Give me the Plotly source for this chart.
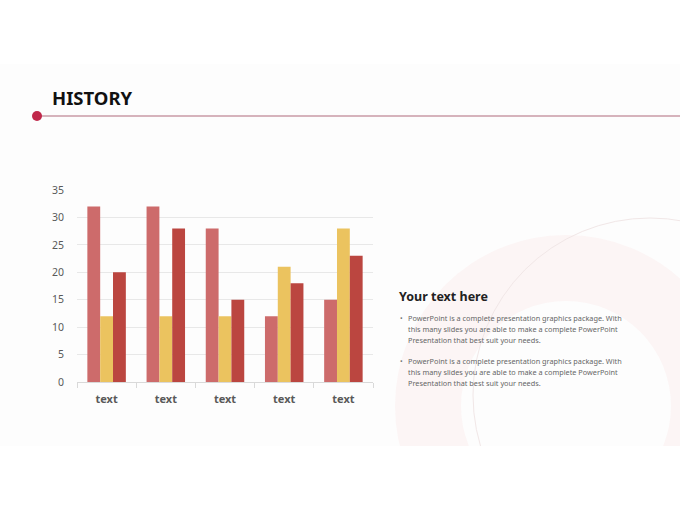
import plotly.graph_objects as go

# --- data
categories = ["text", "text", "text", "text", "text"]
cat_ids = ["c1", "c2", "c3", "c4", "c5"]
series_a = [32, 32, 28, 12, 15]
series_b = [12, 12, 12, 21, 28]
series_c = [20, 28, 15, 18, 23]
y_ticks = [0, 5, 10, 15, 20, 25, 30, 35]

title_text = "HISTORY"
side_title = "Your text here"
bullet_lines = [
    "PowerPoint is a complete presentation graphics package. With",
    "this many slides you are able to make a complete PowerPoint",
    "Presentation that best suit your needs.",
]

W, H = 680, 510
L, R, T, B = 77, 307, 190, 128
PW, PH = W - L - R, H - T - B


def px(x):
    return (x - L) / PW


def py(y):
    return (H - B - y) / PH


fig = go.Figure()

colors = ["#cd6b6b", "#ebc35f", "#bb4640"]
for vals, col in zip([series_a, series_b, series_c], colors):
    fig.add_trace(go.Bar(x=cat_ids, y=vals, marker_color=col, marker_line_width=0,
                         hoverinfo="skip"))

shapes = []
# slide background
shapes.append(dict(type="rect", xref="paper", yref="paper", x0=px(0), x1=px(W),
                   y0=py(446), y1=py(64), fillcolor="#fdfdfd", line_width=0, layer="below"))
# pink ring
cx, cy = 566, 406
shapes.append(dict(type="circle", xref="paper", yref="paper", x0=px(cx - 171), x1=px(cx + 171),
                   y0=py(cy + 171), y1=py(cy - 171), fillcolor="#fcf5f5", line_width=0, layer="below"))
shapes.append(dict(type="circle", xref="paper", yref="paper", x0=px(cx - 105), x1=px(cx + 105),
                   y0=py(cy + 105), y1=py(cy - 105), fillcolor="#fdfdfd", line_width=0, layer="below"))
# thin circle line
lx, ly, lr = 650, 395, 177
shapes.append(dict(type="circle", xref="paper", yref="paper", x0=px(lx - lr), x1=px(lx + lr),
                   y0=py(ly + lr), y1=py(ly - lr), line=dict(color="#f1e7e7", width=1), layer="below"))
# cover below slide
shapes.append(dict(type="rect", xref="paper", yref="paper", x0=px(0), x1=px(W),
                   y0=py(H), y1=py(446), fillcolor="#ffffff", line_width=0, layer="below"))
# header line and dot
shapes.append(dict(type="line", xref="paper", yref="paper", x0=px(37), x1=px(W),
                   y0=py(116), y1=py(116), line=dict(color="#c99aa6", width=1.5)))
shapes.append(dict(type="circle", xref="paper", yref="paper", x0=px(32), x1=px(42),
                   y0=py(121), y1=py(111), fillcolor="#c0284a", line_width=0))

annotations = [
    dict(text="<b>" + title_text + "</b>", xref="paper", yref="paper", x=px(50), y=py(98),
         xanchor="left", yanchor="middle", showarrow=False,
         font=dict(family="Noto Sans", size=18.5, color="#111111")),
    dict(text="<b>" + side_title + "</b>", xref="paper", yref="paper", x=px(397), y=py(296),
         xanchor="left", yanchor="middle", showarrow=False,
         font=dict(family="Noto Sans", size=12.5, color="#222222")),
]
for block_y in [318, 361]:
    annotations.append(dict(text="•", xref="paper", yref="paper", x=px(398), y=py(block_y),
                            xanchor="left", yanchor="middle", showarrow=False,
                            font=dict(family="Noto Sans", size=7, color="#777777")))
    for i, line in enumerate(bullet_lines):
        annotations.append(dict(text=line, xref="paper", yref="paper", x=px(406),
                                y=py(block_y + i * 11), xanchor="left", yanchor="middle",
                                showarrow=False,
                                font=dict(family="Noto Sans", size=7.3, color="#666666")))

fig.update_layout(
    width=W, height=H,
    margin=dict(l=L, r=R, t=T, b=B, pad=0),
    paper_bgcolor="#ffffff",
    plot_bgcolor="rgba(0,0,0,0)",
    barmode="group",
    bargap=0.35,
    bargroupgap=0,
    showlegend=False,
    shapes=shapes,
    annotations=annotations,
    font=dict(family="Noto Sans"),
    xaxis=dict(type="category", tickvals=cat_ids, ticktext=["<b>" + c + "</b>" for c in categories],
               showgrid=False, showline=True, linecolor="#d9d9d9", linewidth=1,
               ticks="outside", tickson="boundaries", ticklen=5, tickcolor="#d9d9d9",
               tickfont=dict(size=11, color="#595959"), ticklabelstandoff=7),
    yaxis=dict(range=[0, 35], tickvals=y_ticks, showgrid=True, gridcolor="#e8e8e8", gridwidth=1,
               zeroline=False, showline=False, ticks="", ticklabelstandoff=12,
               tickfont=dict(size=10.5, color="#595959")),
)

fig.write_html("out.html", config=dict(displayModeBar=False),
               post_script="document.body.style.margin='0';document.body.style.overflow='hidden';")
